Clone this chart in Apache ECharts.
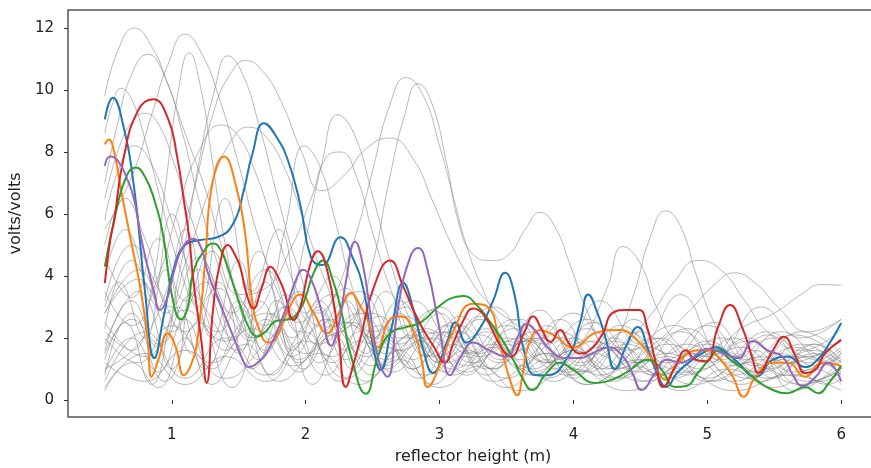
<!DOCTYPE html>
<html><head><meta charset="utf-8">
<script src="https://cdn.jsdelivr.net/npm/echarts@6/dist/echarts.min.js"></script>
<style>html,body{margin:0;padding:0;background:#fff;overflow:hidden}#c{width:871px;height:468px}</style>
</head><body><div id="c"></div>
<script>
var xTicks = [1, 2, 3, 4, 5, 6];
var yTicks = [0, 2, 4, 6, 8, 10, 12];

var blueLine = [[0.5,9.05],[0.56,9.75],[0.63,9.0],[0.72,6.8],[0.8,3.5],[0.87,1.35],[0.94,2.7],[1.02,4.3],[1.1,5.0],[1.2,5.15],[1.34,5.25],[1.46,5.7],[1.54,6.8],[1.6,7.9],[1.69,8.93],[1.78,8.5],[1.87,7.7],[1.96,6.3],[2.04,4.6],[2.12,4.35],[2.26,5.25],[2.35,4.6],[2.43,3.6],[2.5,1.8],[2.56,0.97],[2.64,2.3],[2.73,3.77],[2.8,3.0],[2.88,1.6],[2.95,0.87],[3.05,1.8],[3.12,2.5],[3.2,1.85],[3.3,2.3],[3.4,3.2],[3.49,4.1],[3.56,3.4],[3.63,1.6],[3.72,0.8],[3.8,0.8],[3.96,1.4],[4.05,2.5],[4.11,3.4],[4.18,2.8],[4.24,2.0],[4.31,1.0],[4.4,1.8],[4.48,2.35],[4.56,1.6],[4.63,0.8],[4.69,0.42],[4.78,0.9],[4.89,1.3],[5.0,1.6],[5.06,1.7],[5.15,1.5],[5.23,1.2],[5.36,0.75],[5.49,1.3],[5.6,1.4],[5.73,1.06],[5.8,1.2],[5.88,1.6],[6.0,2.48]];
var orangeLine = [[0.5,8.25],[0.53,8.4],[0.57,8.0],[0.62,6.8],[0.69,5.25],[0.77,3.5],[0.82,1.95],[0.85,0.75],[0.9,1.3],[0.97,2.15],[1.03,1.7],[1.09,0.8],[1.14,1.1],[1.19,1.9],[1.25,4.5],[1.3,6.9],[1.39,7.85],[1.48,6.9],[1.55,5.3],[1.6,3.2],[1.66,2.2],[1.72,1.85],[1.78,2.0],[1.87,2.9],[1.96,3.4],[2.06,2.8],[2.16,2.15],[2.25,2.8],[2.34,3.45],[2.4,3.1],[2.46,2.6],[2.54,1.7],[2.63,2.6],[2.71,2.7],[2.81,2.15],[2.87,1.2],[2.91,0.42],[3.01,1.2],[3.1,2.2],[3.25,3.1],[3.36,3.0],[3.45,1.8],[3.53,0.6],[3.58,0.15],[3.62,0.8],[3.66,1.7],[3.75,2.25],[3.85,2.1],[4.0,1.7],[4.16,2.15],[4.34,2.26],[4.46,2.0],[4.59,1.3],[4.69,0.65],[4.78,1.2],[4.93,1.6],[5.0,1.6],[5.08,1.4],[5.19,0.75],[5.27,0.1],[5.36,0.75],[5.49,1.2],[5.6,1.2],[5.73,0.75],[5.86,1.2],[6.0,1.1]];
var greenLine = [[0.5,4.3],[0.58,6.0],[0.66,7.2],[0.73,7.5],[0.8,7.2],[0.87,6.45],[0.94,5.2],[1.0,3.4],[1.07,2.6],[1.12,3.0],[1.16,4.1],[1.24,4.8],[1.31,5.05],[1.37,4.8],[1.43,4.1],[1.5,3.2],[1.58,2.3],[1.64,2.05],[1.7,2.2],[1.78,2.55],[1.87,2.6],[1.93,2.75],[1.99,3.2],[2.06,4.1],[2.13,4.5],[2.2,3.9],[2.27,2.8],[2.34,1.4],[2.45,0.2],[2.54,1.4],[2.63,2.15],[2.75,2.35],[2.86,2.5],[2.99,3.0],[3.1,3.3],[3.18,3.35],[3.28,3.05],[3.38,2.5],[3.46,2.0],[3.55,1.3],[3.62,0.7],[3.69,0.32],[3.8,0.87],[3.9,1.2],[4.0,0.97],[4.16,0.55],[4.25,0.6],[4.39,0.87],[4.56,1.3],[4.66,0.97],[4.76,0.42],[4.84,0.45],[4.93,0.87],[5.03,1.4],[5.08,1.6],[5.17,1.3],[5.28,0.97],[5.38,0.6],[5.49,0.32],[5.6,0.22],[5.73,0.42],[5.83,0.22],[5.9,0.5],[6.0,1.1]];
var redLine = [[0.5,3.77],[0.54,5.15],[0.57,5.8],[0.64,7.8],[0.75,9.35],[0.86,9.7],[0.97,9.1],[1.04,7.85],[1.09,6.45],[1.13,5.25],[1.16,3.9],[1.22,1.95],[1.26,0.55],[1.31,3.0],[1.36,4.4],[1.42,5.0],[1.47,4.7],[1.51,4.3],[1.56,3.4],[1.61,2.95],[1.67,3.6],[1.74,4.3],[1.79,4.0],[1.84,3.5],[1.91,2.58],[1.96,3.0],[2.03,4.3],[2.09,4.8],[2.16,4.2],[2.24,2.26],[2.3,0.42],[2.36,1.2],[2.41,2.0],[2.51,3.65],[2.63,4.5],[2.73,3.65],[2.84,2.58],[2.96,1.7],[3.04,1.2],[3.1,1.8],[3.18,2.58],[3.25,2.95],[3.33,2.75],[3.46,1.7],[3.53,1.4],[3.63,2.15],[3.7,2.7],[3.76,2.3],[3.83,1.87],[3.9,2.26],[3.97,1.8],[4.05,1.5],[4.12,1.6],[4.22,2.15],[4.29,2.8],[4.39,2.9],[4.49,2.9],[4.55,2.35],[4.61,1.3],[4.67,0.42],[4.76,1.06],[4.84,1.6],[4.91,1.3],[4.99,1.25],[5.08,2.35],[5.17,3.06],[5.26,2.35],[5.34,1.3],[5.38,0.87],[5.49,1.6],[5.57,2.04],[5.66,1.4],[5.73,0.87],[5.8,0.95],[5.88,1.5],[6.0,1.94]];
var purpleLine = [[0.5,7.55],[0.54,7.85],[0.6,7.7],[0.66,7.2],[0.72,6.45],[0.77,5.25],[0.82,4.3],[0.87,3.45],[0.91,2.9],[0.96,3.2],[1.02,4.2],[1.08,4.9],[1.16,5.2],[1.22,4.9],[1.27,4.1],[1.37,3.0],[1.46,2.04],[1.54,1.2],[1.57,1.06],[1.64,1.2],[1.72,1.6],[1.84,2.8],[1.93,3.9],[1.98,4.2],[2.04,3.9],[2.11,3.0],[2.19,1.75],[2.25,2.5],[2.3,3.8],[2.37,5.1],[2.43,4.3],[2.49,2.6],[2.55,1.2],[2.61,0.75],[2.69,3.0],[2.78,4.6],[2.84,4.9],[2.91,4.2],[3.0,2.3],[3.08,0.8],[3.16,1.4],[3.25,1.85],[3.37,1.6],[3.5,1.4],[3.58,2.0],[3.65,2.45],[3.72,2.2],[3.83,1.6],[3.95,1.35],[4.05,1.35],[4.14,1.5],[4.26,1.7],[4.37,1.4],[4.44,0.87],[4.51,0.32],[4.61,0.87],[4.7,1.3],[4.8,1.2],[4.9,1.4],[5.0,1.65],[5.12,1.5],[5.23,1.35],[5.34,1.9],[5.45,1.6],[5.56,1.4],[5.64,0.8],[5.71,0.45],[5.81,0.75],[5.9,1.2],[6.0,0.6]];

var gray01 = [[0.5,9.8],[0.6,11.3],[0.72,12.0],[0.85,11.4],[0.97,10.2],[1.1,8.6],[1.25,6.8],[1.4,4.6],[1.55,3.0],[1.7,2.4],[1.85,3.4],[2.0,2.6],[2.2,1.4],[2.4,2.2],[2.6,1.1],[2.85,1.9],[3.1,0.8],[3.4,1.7],[3.7,0.9],[4.0,1.6],[4.3,0.7],[4.7,1.4],[5.0,0.6],[5.4,1.3],[5.7,0.5],[6.0,1.1]];
var gray02 = [[0.5,5.5],[0.7,7.2],[0.85,9.2],[0.97,10.8],[1.1,11.8],[1.22,11.2],[1.35,9.8],[1.5,7.6],[1.65,5.2],[1.8,3.4],[1.95,2.2],[2.1,3.0],[2.3,1.6],[2.55,2.7],[2.8,1.3],[3.05,2.4],[3.35,1.0],[3.65,1.9],[3.95,0.8],[4.3,1.7],[4.6,0.8],[4.95,1.6],[5.3,0.7],[5.65,1.4],[6.0,0.9]];
var gray03 = [[0.5,7.0],[0.6,9.0],[0.7,10.5],[0.82,11.15],[0.95,10.4],[1.08,8.6],[1.2,6.5],[1.35,4.3],[1.5,2.6],[1.62,2.0],[1.78,3.2],[1.95,2.0],[2.15,0.8],[2.4,1.9],[2.65,0.9],[2.95,2.0],[3.25,1.2],[3.55,2.3],[3.85,1.0],[4.15,1.9],[4.5,0.9],[4.85,1.8],[5.2,0.8],[5.55,1.5],[5.85,0.6],[6.0,0.9]];
var gray04 = [[0.5,2.2],[0.7,1.6],[0.85,3.6],[0.95,6.8],[1.05,10.0],[1.13,11.2],[1.21,10.2],[1.3,7.8],[1.4,5.0],[1.52,2.8],[1.65,1.3],[1.8,2.2],[1.98,1.0],[2.2,2.1],[2.45,0.6],[2.7,1.6],[2.95,0.5],[3.2,1.4],[3.5,0.4],[3.8,1.3],[4.1,0.5],[4.45,1.1],[4.8,0.3],[5.15,1.0],[5.5,0.4],[5.8,1.0],[6.0,0.5]];
var gray05 = [[0.5,1.5],[0.7,2.6],[0.9,1.8],[1.05,4.0],[1.2,7.6],[1.32,10.0],[1.42,11.1],[1.52,10.6],[1.65,8.9],[1.8,6.4],[1.95,4.2],[2.1,2.8],[2.3,3.6],[2.5,2.0],[2.75,3.0],[3.0,1.4],[3.3,2.6],[3.6,1.3],[3.9,2.2],[4.25,1.0],[4.6,2.0],[4.95,1.0],[5.3,1.9],[5.65,0.9],[6.0,1.6]];
var gray06 = [[0.5,1.0],[0.75,1.8],[0.95,3.4],[1.15,6.5],[1.32,9.4],[1.45,10.6],[1.55,10.95],[1.68,10.6],[1.82,9.6],[1.97,8.0],[2.12,6.75],[2.3,7.3],[2.45,8.1],[2.63,8.45],[2.8,7.8],[2.95,6.4],[3.08,5.1],[3.2,4.1],[3.35,3.2],[3.55,2.5],[3.8,1.8],[4.1,2.6],[4.4,1.6],[4.75,2.4],[5.1,1.3],[5.45,2.2],[5.75,1.4],[6.0,2.0]];
var gray07 = [[0.5,8.6],[0.56,9.6],[0.62,10.05],[0.7,9.7],[0.8,8.4],[0.92,6.4],[1.05,4.4],[1.2,2.8],[1.35,2.2],[1.5,3.0],[1.7,1.6],[1.9,2.7],[2.1,1.2],[2.35,2.4],[2.6,1.0],[2.9,2.0],[3.2,0.9],[3.5,1.8],[3.8,0.7],[4.15,1.5],[4.5,0.6],[4.85,1.5],[5.2,0.6],[5.55,1.3],[5.9,0.5],[6.0,0.7]];
var gray08 = [[0.5,6.5],[0.62,8.3],[0.72,9.05],[0.8,9.25],[0.9,8.9],[1.02,7.6],[1.15,5.8],[1.3,4.0],[1.45,2.6],[1.6,1.9],[1.75,2.8],[1.9,1.6],[2.1,2.9],[2.3,1.3],[2.55,2.4],[2.8,1.0],[3.05,2.2],[3.35,0.8],[3.65,1.9],[3.95,0.9],[4.3,1.9],[4.65,0.8],[5.0,1.9],[5.35,0.9],[5.7,1.8],[6.0,1.0]];
var gray09 = [[0.5,3.5],[0.7,2.4],[0.9,4.0],[1.05,6.2],[1.2,8.0],[1.37,8.87],[1.5,8.5],[1.62,7.4],[1.78,5.4],[1.95,3.4],[2.1,2.4],[2.3,3.2],[2.5,1.8],[2.75,2.7],[3.0,1.2],[3.3,2.1],[3.6,1.1],[3.9,2.0],[4.2,0.8],[4.55,1.7],[4.9,0.9],[5.25,1.7],[5.6,0.8],[6.0,1.4]];
var gray10 = [[0.5,2.8],[0.75,3.9],[0.95,2.8],[1.1,4.4],[1.3,7.0],[1.45,8.4],[1.57,8.8],[1.7,8.5],[1.85,7.4],[2.0,5.6],[2.15,3.8],[2.3,2.5],[2.5,3.4],[2.7,2.0],[2.95,2.9],[3.2,1.5],[3.5,2.4],[3.8,1.2],[4.1,2.3],[4.45,1.2],[4.8,2.2],[5.15,1.2],[5.5,2.0],[5.8,1.1],[6.0,1.5]];
var gray11 = [[0.5,0.9],[0.7,2.0],[0.9,0.9],[1.1,2.6],[1.3,1.0],[1.5,2.4],[1.7,3.2],[1.85,5.6],[1.99,8.2],[2.1,7.6],[2.22,5.8],[2.35,3.6],[2.5,2.0],[2.7,2.8],[2.9,1.4],[3.15,2.4],[3.45,1.2],[3.75,2.0],[4.05,0.9],[4.4,1.8],[4.75,0.7],[5.1,1.6],[5.45,0.7],[5.8,1.5],[6.0,1.0]];
var gray12 = [[0.5,4.6],[0.7,3.3],[0.9,5.2],[1.1,3.2],[1.3,4.8],[1.5,3.4],[1.7,3.6],[1.88,4.8],[2.05,6.6],[2.15,7.8],[2.26,8.0],[2.38,7.2],[2.5,5.4],[2.65,3.4],[2.8,2.0],[3.0,2.8],[3.25,1.5],[3.55,2.6],[3.85,1.4],[4.15,2.5],[4.5,1.2],[4.85,2.3],[5.2,1.1],[5.55,2.2],[5.9,1.2],[6.0,1.5]];
var gray13 = [[0.5,1.2],[0.8,0.6],[1.1,1.6],[1.4,0.7],[1.65,1.6],[1.85,2.8],[2.0,5.2],[2.12,7.6],[2.24,9.2],[2.36,8.6],[2.5,6.6],[2.65,4.2],[2.8,2.4],[2.95,1.4],[3.15,2.2],[3.4,1.0],[3.7,2.0],[4.0,0.8],[4.35,1.7],[4.7,0.7],[5.05,1.5],[5.4,0.6],[5.75,1.4],[6.0,0.8]];
var gray14 = [[0.5,0.4],[0.8,1.5],[1.1,0.5],[1.4,1.4],[1.7,0.6],[1.95,1.8],[2.15,2.8],[2.35,5.0],[2.5,7.4],[2.62,9.4],[2.75,10.4],[2.88,9.8],[3.0,8.2],[3.1,6.6],[3.2,5.0],[3.32,3.6],[3.45,2.5],[3.6,1.6],[3.8,2.4],[4.05,1.2],[4.4,2.2],[4.75,1.0],[5.1,2.0],[5.45,1.0],[5.8,1.8],[6.0,1.2]];
var gray15 = [[0.5,2.0],[0.75,1.2],[1.0,2.4],[1.3,1.2],[1.6,2.3],[1.9,1.1],[2.15,2.0],[2.35,2.5],[2.5,4.4],[2.62,7.0],[2.74,9.2],[2.84,10.2],[2.94,9.6],[3.05,7.7],[3.15,5.6],[3.25,4.7],[3.38,4.5],[3.52,4.7],[3.64,5.5],[3.75,6.05],[3.86,5.6],[3.98,4.3],[4.1,2.9],[4.25,1.8],[4.45,2.6],[4.7,1.5],[5.0,2.4],[5.3,1.3],[5.65,2.1],[6.0,1.3]];
var gray16 = [[0.5,3.2],[0.7,5.0],[0.9,3.6],[1.1,2.2],[1.35,3.6],[1.6,2.0],[1.85,3.0],[2.1,1.8],[2.4,2.8],[2.7,1.6],[3.0,2.2],[3.3,1.4],[3.6,2.0],[3.85,1.2],[4.05,1.8],[4.25,3.6],[4.37,4.95],[4.5,4.4],[4.62,3.0],[4.78,1.8],[5.0,1.2],[5.3,2.0],[5.6,1.2],[6.0,1.9]];
var gray17 = [[0.5,0.6],[0.8,2.2],[1.1,0.7],[1.4,2.0],[1.7,0.8],[2.0,1.9],[2.3,0.7],[2.6,1.7],[2.9,0.8],[3.2,1.6],[3.5,0.7],[3.8,1.5],[4.1,0.9],[4.3,1.8],[4.45,3.4],[4.57,5.2],[4.69,6.1],[4.8,5.6],[4.92,4.0],[5.05,2.5],[5.2,1.4],[5.45,2.1],[5.75,1.2],[6.0,1.7]];
var gray18 = [[0.5,5.0],[0.65,6.5],[0.8,5.2],[1.0,3.0],[1.2,4.6],[1.45,2.8],[1.7,4.2],[1.95,2.5],[2.2,3.4],[2.5,2.2],[2.8,3.2],[3.1,2.0],[3.4,3.0],[3.7,1.9],[4.0,2.8],[4.3,1.6],[4.55,2.6],[4.75,3.8],[4.93,4.5],[5.1,4.2],[5.28,3.2],[5.45,2.2],[5.7,1.6],[6.0,2.3]];
var gray19 = [[0.5,1.6],[0.7,3.2],[0.9,1.7],[1.15,3.4],[1.4,1.6],[1.65,3.2],[1.9,1.4],[2.15,2.6],[2.45,1.4],[2.75,2.4],[3.05,1.2],[3.35,2.2],[3.7,1.0],[4.0,2.0],[4.3,1.0],[4.6,1.8],[4.85,2.8],[5.05,3.7],[5.2,4.1],[5.35,3.8],[5.55,2.9],[5.75,2.2],[6.0,2.6]];
var gray20 = [[0.5,2.5],[0.8,1.4],[1.1,2.9],[1.4,1.9],[1.7,2.8],[2.0,1.5],[2.3,2.5],[2.6,1.3],[2.9,2.3],[3.2,1.1],[3.5,2.0],[3.8,1.2],[4.1,1.9],[4.4,1.0],[4.7,1.8],[5.0,1.4],[5.25,2.3],[5.5,2.8],[5.7,3.4],[5.85,3.72],[6.0,3.7]];
var gray21 = [[0.5,0.3],[0.7,1.2],[0.9,0.4],[1.1,2.0],[1.3,0.5],[1.55,1.8],[1.8,0.6],[2.1,1.5],[2.4,0.5],[2.7,1.3],[3.0,0.4],[3.3,1.1],[3.6,0.3],[4.0,1.0],[4.4,0.3],[4.8,0.9],[5.2,0.3],[5.6,0.8],[6.0,0.3]];
var gray22 = [[0.5,1.3],[0.65,2.5],[0.85,0.5],[1.05,3.0],[1.25,1.0],[1.5,3.2],[1.75,0.8],[2.0,2.2],[2.25,0.6],[2.55,2.0],[2.85,0.7],[3.1,1.8],[3.4,0.6],[3.8,1.5],[4.1,0.5],[4.5,1.3],[4.9,0.5],[5.3,1.2],[5.7,0.5],[6.0,1.0]];
var gray23 = [[0.5,2.3],[0.7,4.5],[0.9,3.0],[1.1,5.5],[1.3,2.0],[1.5,4.5],[1.7,1.5],[1.95,3.5],[2.2,1.2],[2.5,2.8],[2.8,1.0],[3.1,2.5],[3.4,1.0],[3.7,2.2],[4.0,0.7],[4.3,2.0],[4.6,0.8],[5.0,1.8],[5.4,0.9],[5.8,1.6],[6.0,1.2]];
var gray24 = [[0.5,3.0],[0.6,3.8],[0.8,2.0],[0.95,4.2],[1.15,1.5],[1.35,3.8],[1.6,1.0],[1.85,3.0],[2.05,0.5],[2.35,2.5],[2.6,1.5],[2.9,2.2],[3.2,0.8],[3.5,1.9],[3.85,0.6],[4.2,1.7],[4.55,0.6],[4.9,1.5],[5.25,0.5],[5.65,1.7],[6.0,0.8]];
var gray25 = [[0.5,4.0],[0.65,5.5],[0.85,3.5],[1.0,6.0],[1.2,3.0],[1.4,6.5],[1.6,3.5],[1.8,5.5],[2.0,2.8],[2.2,4.0],[2.45,1.5],[2.7,3.2],[3.0,1.2],[3.3,2.7],[3.6,1.0],[3.9,2.6],[4.2,1.0],[4.5,2.2],[4.85,0.8],[5.2,2.0],[5.5,0.7],[5.8,1.8],[6.0,1.0]];
var gray26 = [[0.5,1.8],[0.75,3.5],[1.0,1.0],[1.2,4.2],[1.45,2.0],[1.65,4.8],[1.9,2.0],[2.1,3.2],[2.35,1.0],[2.6,3.5],[2.9,1.4],[3.15,2.7],[3.45,1.3],[3.75,2.9],[4.05,1.1],[4.35,2.4],[4.7,1.2],[5.05,2.5],[5.35,1.1],[5.7,2.2],[6.0,1.5]];
var gray27 = [[0.5,0.8],[0.7,2.8],[0.95,0.6],[1.2,2.5],[1.45,0.4],[1.7,2.2],[1.95,0.9],[2.2,2.6],[2.5,0.8],[2.75,2.0],[3.05,0.9],[3.35,2.3],[3.7,0.8],[4.0,1.7],[4.3,0.6],[4.65,2.0],[5.0,0.7],[5.35,1.6],[5.65,0.3],[6.0,1.3]];
var gray28 = [[0.5,2.8],[0.75,4.2],[1.0,2.2],[1.25,3.8],[1.5,1.5],[1.7,3.8],[1.95,1.2],[2.15,2.2],[2.4,3.5],[2.7,1.8],[3.0,3.0],[3.3,1.5],[3.6,2.6],[3.9,1.3],[4.2,3.2],[4.5,1.8],[4.8,3.4],[5.1,1.6],[5.4,3.0],[5.7,2.0],[6.0,2.6]];
var gray29 = [[0.5,5.8],[0.6,7.4],[0.72,8.2],[0.85,7.6],[1.0,5.8],[1.15,4.0],[1.3,2.6],[1.5,1.6],[1.7,2.6],[1.95,1.3],[2.2,2.4],[2.5,1.1],[2.8,2.1],[3.1,1.0],[3.4,1.8],[3.7,0.8],[4.0,1.6],[4.35,0.7],[4.7,1.5],[5.05,0.6],[5.4,1.4],[5.75,0.6],[6.0,1.0]];

var grayLines = [gray01,gray02,gray03,gray04,gray05,gray06,gray07,gray08,gray09,gray10,gray11,gray12,gray13,gray14,gray15,gray16,gray17,gray18,gray19,gray20,gray21,gray22,gray23,gray24,gray25,gray26,gray27,gray28,gray29];
var colorLines = [blueLine, orangeLine, greenLine, redLine, purpleLine];
var colorList = ['#1f77b4', '#ff7f0e', '#2ca02c', '#d62728', '#9467bd'];

var series = [];
grayLines.forEach(function (d) {
  series.push({type: 'line', data: d, smooth: 0.5, symbol: 'none', silent: true,
    lineStyle: {color: 'rgba(128,128,128,0.55)', width: 1}});
});
colorLines.forEach(function (d, i) {
  series.push({type: 'line', data: d, smooth: 0.5, symbol: 'none', silent: true,
    lineStyle: {color: colorList[i], width: 2}});
});

var font = 'DejaVu Sans';
var chart = echarts.init(document.getElementById('c'), null, {renderer: 'canvas'});
chart.setOption({
  animation: false,
  backgroundColor: '#fff',
  grid: {left: 68, width: 810, top: 10, height: 407, containLabel: false, outerBoundsMode: 'none',
    show: true, borderColor: '#555', borderWidth: 1.5, backgroundColor: 'transparent'},
  xAxis: {
    type: 'value', min: 0.225, max: 6.275,
    name: 'reflector height (m)', nameLocation: 'middle', nameGap: 32,
    nameTextStyle: {fontFamily: font, fontSize: 16, color: '#222'},
    axisLine: {show: false},
    splitLine: {show: false},
    axisTick: {show: true, length: 4, lineStyle: {color: '#333'}, customValues: xTicks},
    axisLabel: {fontFamily: font, fontSize: 15, color: '#222', margin: 11, customValues: xTicks}
  },
  yAxis: {
    type: 'value', min: -0.55, max: 12.58,
    name: 'volts/volts', nameLocation: 'middle', nameGap: 43,
    nameTextStyle: {fontFamily: font, fontSize: 16, color: '#222'},
    axisLine: {show: false},
    splitLine: {show: false},
    axisTick: {show: true, length: 4, lineStyle: {color: '#333'}, customValues: yTicks},
    axisLabel: {fontFamily: font, fontSize: 15, color: '#222', margin: 14, customValues: yTicks}
  },
  series: series
});
</script>
</body></html>
